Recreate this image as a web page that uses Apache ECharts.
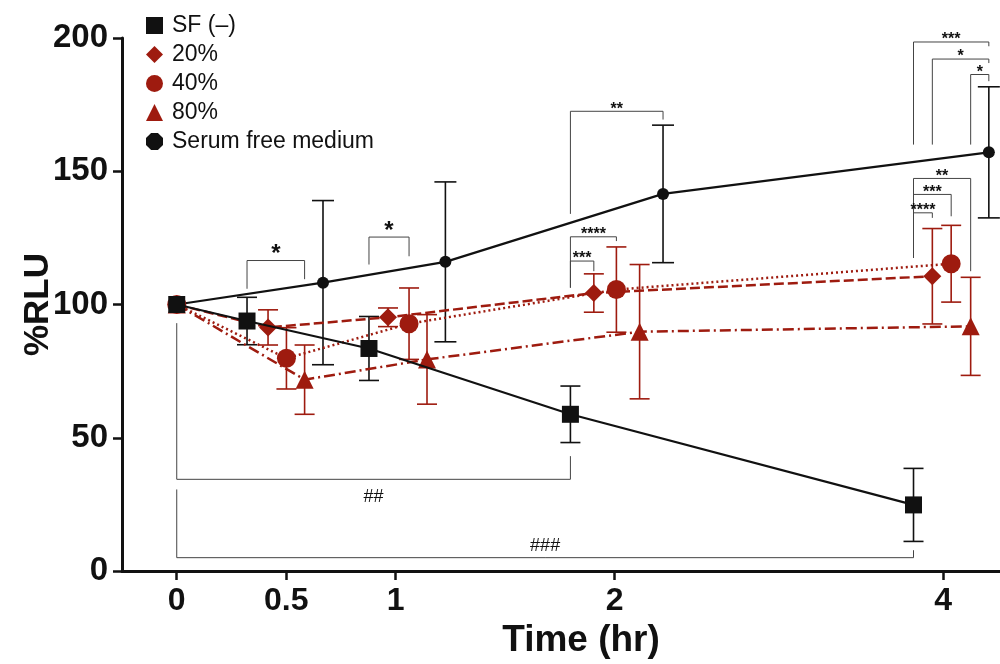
<!DOCTYPE html>
<html><head><meta charset="utf-8">
<script src="https://cdn.jsdelivr.net/npm/echarts@6/dist/echarts.min.js"></script>
<style>html,body{margin:0;padding:0;background:#fff}#c{width:1000px;height:664px}</style>
</head><body><div id="c"></div>
<script>
// ---- data ----
const timeLabels = ['0', '0.5', '1', '2', '4'];
const timeAxisPos = [0, 0.5, 1, 2, 3.5];          // broken time scale used by the figure
const seriesNames = ['SF (–)', '20%', '40%', '80%', 'Serum free medium'];
// plotted x (axis units, nudged within each time group as in the figure)
const xSF    = [0, 0.321, 0.878, 1.798, 3.365];
const x20    = [0, 0.417, 0.965, 1.905, 3.451];
const x40    = [0, 0.501, 1.061, 2.008, 3.537];
const x80    = [0, 0.584, 1.143, 2.114, 3.626];
const xSerum = [0, 0.668, 1.227, 2.221, 3.709];
// mean %RLU and error
const ySF    = [100, 93.8, 83.5, 58.8, 24.8];
const eSF    = [0, 8.9, 12, 10.6, 13.7];
const y20    = [100, 91.4, 95.2, 104.3, 110.6];
const e20    = [0, 6.6, 3.5, 7.2, 17.9];
const y40    = [100, 79.8, 92.8, 105.6, 115.3];
const e40    = [0, 11.5, 13.4, 16, 14.4];
const y80    = [100, 71.8, 79.4, 89.8, 91.8];
const e80    = [0, 13, 16.8, 25.2, 18.4];
const ySerum = [100, 108.2, 116, 141.5, 157.1];
const eSerum = [0, 30.8, 30, 25.8, 24.6];
// significance brackets: [xLeft, xRight, yTop, yLeftEnd, yRightEnd]
const starBrackets = [
  [0.321, 0.584, 116.5, 105.9, 109.5],
  [0.878, 1.061, 125.3, 115.0, 118.1],
  [1.798, 2.221, 172.5, 134.0, 169.4],
  [1.798, 2.008, 125.4, 106.3, 123.8],
  [1.798, 1.905, 116.3, 106.3, 112.5],
  [3.365, 3.709, 198.5, 160.0, 196.9],
  [3.451, 3.709, 192.1, 160.0, 190.6],
  [3.626, 3.709, 186.3, 160.0, 183.8],
  [3.365, 3.626, 147.3, 117.5, 112.5],
  [3.365, 3.537, 141.3, 117.5, 133.1],
  [3.365, 3.451, 134.4, 117.5, 132.5]
];
const starLabels = ['*', '*', '**', '****', '***', '***', '*', '*', '**', '***', '****'];
// hash brackets (vs time 0): [xLeft, xRight, yLine, yLeftEnd, yRightEnd, yLabel]
const hashBrackets = [
  [0, 1.798, 34.4, 93.0, 43.1, 27.8],
  [0, 3.365, 5.0, 30.6, 7.8, 9.4]
];
const hashLabels = ['##', '###'];

// ---- chart ----
const RED = '#9e1b0f';
const BLACK = '#111111';
const chart = echarts.init(document.getElementById('c'), null, {renderer: 'canvas'});
const FONT = 'Liberation Sans, Arial, Helvetica, sans-serif';

function pts(xs, ys) { return xs.map((x, i) => [x, ys[i]]); }
function errPts(xs, ys, es) { return xs.map((x, i) => [x, ys[i], es[i]]).filter(d => d[2] > 0); }

function errSeries(xs, ys, es, color, capW, lw) {
  return {
    type: 'custom', silent: true, z: 2,
    data: errPts(xs, ys, es),
    encode: {x: 0, y: 1},
    renderItem: function (params, api) {
      const x = api.value(0), y = api.value(1), e = api.value(2);
      const top = api.coord([x, y + e]);
      const bot = api.coord([x, y - e]);
      const st = {stroke: color, lineWidth: lw};
      return {type: 'group', children: [
        {type: 'line', shape: {x1: top[0], y1: top[1], x2: bot[0], y2: bot[1]}, style: st},
        {type: 'line', shape: {x1: top[0] - capW / 2, y1: top[1], x2: top[0] + capW / 2, y2: top[1]}, style: st},
        {type: 'line', shape: {x1: bot[0] - capW / 2, y1: bot[1], x2: bot[0] + capW / 2, y2: bot[1]}, style: st}
      ]};
    }
  };
}

const bracketSeries = {
  type: 'custom', silent: true, z: 1,
  data: starBrackets.map((b, i) => b.concat([i])),
  encode: {x: 0, y: 2},
  renderItem: function (params, api) {
    const xl = api.value(0), xr = api.value(1), yt = api.value(2), yl = api.value(3), yr = api.value(4);
    const i = api.value(5);
    const a = api.coord([xl, yl]), b = api.coord([xl, yt]), c = api.coord([xr, yt]), d = api.coord([xr, yr]);
    const lab = starLabels[i];
    const big = (i < 2);
    return {type: 'group', children: [
      {type: 'polyline', shape: {points: [a, b, c, d]}, style: {stroke: '#444', lineWidth: 1, fill: null}},
      {type: 'text', style: {text: lab, x: (b[0] + c[0]) / 2, y: b[1] + 6, align: 'center', verticalAlign: 'bottom',
        font: (big ? 'bold 24px ' : 'bold 16px ') + FONT, fill: BLACK}}
    ]};
  }
};

const hashSeries = {
  type: 'custom', silent: true, z: 1,
  data: hashBrackets.map((b, i) => b.concat([i])),
  encode: {x: 0, y: 2},
  renderItem: function (params, api) {
    const xl = api.value(0), xr = api.value(1), yt = api.value(2), yl = api.value(3), yr = api.value(4), ylab = api.value(5);
    const i = api.value(6);
    const a = api.coord([xl, yl]), b = api.coord([xl, yt]), c = api.coord([xr, yt]), d = api.coord([xr, yr]);
    const lp = api.coord([(xl + xr) / 2, ylab]);
    return {type: 'group', children: [
      {type: 'polyline', shape: {points: [a, b, c, d]}, style: {stroke: '#444', lineWidth: 1, fill: null}},
      {type: 'text', style: {text: hashLabels[i], x: lp[0], y: lp[1], align: 'center', verticalAlign: 'middle',
        font: '18px ' + FONT, fill: BLACK}}
    ]};
  }
};

function lineSeries(name, xs, ys, color, symbol, size, lineType, lw, z) {
  return {
    name: name, type: 'line', data: pts(xs, ys), symbol: symbol, symbolSize: size, z: z,
    showAllSymbol: true, animation: false,
    itemStyle: {color: color, borderWidth: 0},
    lineStyle: {color: color, width: lw, type: lineType},
    emphasis: {disabled: true}
  };
}

const serumIcon = 'path://M3,0 L7,0 L10,3 L10,7 L7,10 L3,10 L0,7 L0,3 Z';

const option = {
  animation: false,
  backgroundColor: '#ffffff',
  textStyle: {fontFamily: FONT},
  grid: {left: 122, right: 0, top: 38, bottom: 90, containLabel: false},
  legend: {
    orient: 'vertical', left: 141, top: 9, itemWidth: 17, itemHeight: 17, itemGap: 6,
    textStyle: {fontSize: 23, color: BLACK, fontFamily: FONT, padding: [0, 0, 0, 4]},
    selectedMode: false,
    data: [
      {name: seriesNames[0], icon: 'rect'},
      {name: seriesNames[1], icon: 'diamond'},
      {name: seriesNames[2], icon: 'circle'},
      {name: seriesNames[3], icon: 'triangle'},
      {name: seriesNames[4], icon: serumIcon}
    ]
  },
  xAxis: {
    type: 'value', min: -0.25, max: 3.76,
    name: 'Time (hr)', nameLocation: 'middle', nameGap: 51, nameMoveOverlap: false,
    nameTextStyle: {fontSize: 37, fontWeight: 'bold', color: BLACK, fontFamily: FONT, padding: [0, 0, 0, 40]},
    axisLine: {show: true, onZero: false, lineStyle: {color: BLACK, width: 3}},
    axisTick: {show: true, length: 9, lineStyle: {color: BLACK, width: 2.5}, customValues: timeAxisPos},
    axisLabel: {
      customValues: timeAxisPos, fontSize: 32, fontWeight: 'bold', color: BLACK, margin: 14, fontFamily: FONT,
      formatter: function (v) { const k = timeAxisPos.findIndex(p => Math.abs(p - v) < 1e-6); return k >= 0 ? timeLabels[k] : ''; }
    },
    splitLine: {show: false}
  },
  yAxis: {
    type: 'value', min: 0, max: 200, interval: 50,
    name: '%RLU', nameLocation: 'middle', nameGap: 66, nameRotate: 90, nameMoveOverlap: false,
    nameTextStyle: {fontSize: 35, fontWeight: 'bold', color: BLACK, fontFamily: FONT},
    axisLine: {show: true, onZero: false, lineStyle: {color: BLACK, width: 3}},
    axisTick: {show: true, length: 9, lineStyle: {color: BLACK, width: 2.5}},
    axisLabel: {fontSize: 33, fontWeight: 'bold', color: BLACK, margin: 14, fontFamily: FONT},
    splitLine: {show: false}
  },
  series: [
    bracketSeries,
    hashSeries,
    errSeries(xSerum, ySerum, eSerum, BLACK, 22, 1.6),
    errSeries(x80, y80, e80, RED, 20, 1.6),
    errSeries(x40, y40, e40, RED, 20, 1.6),
    errSeries(x20, y20, e20, RED, 20, 1.6),
    errSeries(xSF, ySF, eSF, BLACK, 20, 1.6),
    lineSeries(seriesNames[4], xSerum, ySerum, BLACK, 'circle', 12, 'solid', 2.2, 3),
    lineSeries(seriesNames[3], x80, y80, RED, 'triangle', 18, [11, 4, 2, 4], 2.5, 4),
    lineSeries(seriesNames[2], x40, y40, RED, 'circle', 19, [2, 3], 2.5, 5),
    lineSeries(seriesNames[1], x20, y20, RED, 'diamond', 18, [10, 4], 2.5, 6),
    lineSeries(seriesNames[0], xSF, ySF, BLACK, 'rect', 17, 'solid', 2.2, 7)
  ]
};
chart.setOption(option);
</script>
</body></html>
